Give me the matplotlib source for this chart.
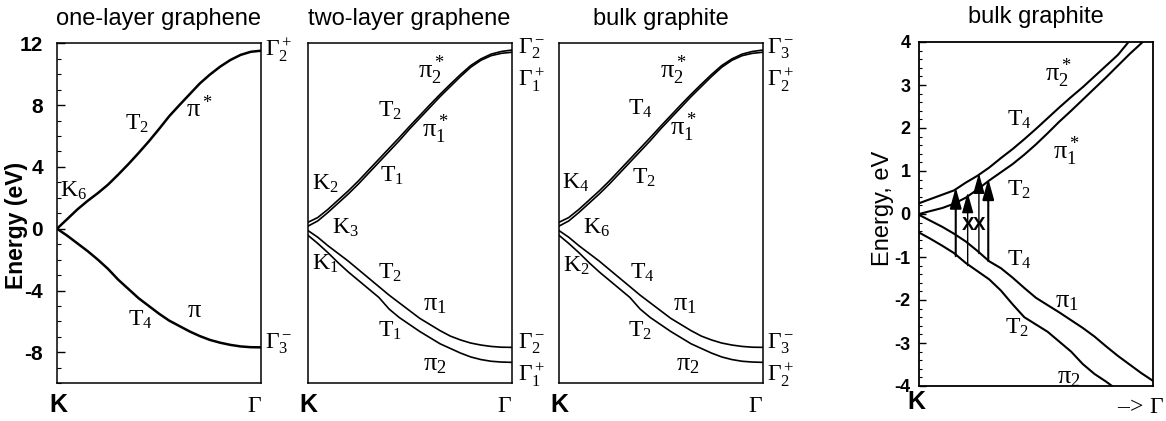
import matplotlib
matplotlib.use("Agg")
import matplotlib.pyplot as plt
from matplotlib.ticker import FixedLocator, MultipleLocator

plt.rcParams.update(
    {
        "font.family": ["Liberation Sans", "DejaVu Sans"],
        "mathtext.fontset": "custom",
        "mathtext.rm": "Liberation Serif",
        "mathtext.it": "Liberation Serif",
        "mathtext.bf": "Liberation Serif:bold",
        "axes.unicode_minus": False,
    }
)

# k-path position, 0 = K, 1 = Gamma
K_GRID = [0.0, 0.05, 0.1, 0.15, 0.2, 0.25, 0.3, 0.35, 0.4, 0.45, 0.5,
          0.55, 0.6, 0.65, 0.7, 0.75, 0.8, 0.85, 0.9, 0.95, 1.0]

# one-layer graphene (eV)
mono_pi_star = [0.0, 0.62, 1.25, 1.8, 2.3, 2.85, 3.5, 4.18, 4.9, 5.65, 6.45,
                7.28, 8.0, 8.7, 9.4, 9.98, 10.49, 10.92, 11.25, 11.45, 11.52]
mono_pi = [0.0, -0.45, -0.95, -1.45, -2.0, -2.6, -3.3, -3.9, -4.5, -5.0, -5.5,
           -5.95, -6.3, -6.65, -6.95, -7.2, -7.38, -7.52, -7.62, -7.67, -7.68]

# two-layer graphene (eV)
bi_pi1_star = [0.15, 0.5, 1.05, 1.65, 2.25, 2.9, 3.6, 4.3, 5.0, 5.7, 6.45,
               7.15, 7.85, 8.55, 9.2, 9.85, 10.45, 10.9, 11.2, 11.35, 11.42]
bi_pi2_star = [0.4, 0.72, 1.25, 1.85, 2.45, 3.1, 3.8, 4.5, 5.2, 5.9, 6.62,
               7.32, 8.02, 8.7, 9.35, 9.98, 10.56, 10.99, 11.3, 11.47, 11.56]
bi_pi1 = [-0.1, -0.55, -1.1, -1.6, -2.1, -2.65, -3.2, -3.75, -4.3, -4.8, -5.3,
          -5.8, -6.2, -6.6, -6.95, -7.2, -7.4, -7.53, -7.62, -7.67, -7.68]
bi_pi2 = [-0.4, -0.95, -1.55, -2.2, -2.8, -3.35, -3.9, -4.45, -5.2, -5.75, -6.2,
          -6.65, -7.05, -7.45, -7.75, -8.05, -8.3, -8.47, -8.58, -8.63, -8.65]

# bulk graphite, full K-Gamma line (same dispersion as bilayer on this scale)
bulk_pi1_star = bi_pi1_star
bulk_pi2_star = bi_pi2_star
bulk_pi1 = bi_pi1
bulk_pi2 = bi_pi2

# bulk graphite near K (eV)
zoom_pi2_star = [0.25, 0.35, 0.45, 0.55, 0.73, 0.89, 1.08, 1.3, 1.51, 1.74, 1.98,
                 2.23, 2.48, 2.72, 2.95, 3.2, 3.45, 3.7, 4.03, 4.3, 4.6]
zoom_pi1_star = [0.0, 0.07, 0.14, 0.24, 0.38, 0.57, 0.78, 0.97, 1.16, 1.38, 1.62,
                 1.88, 2.15, 2.4, 2.66, 2.92, 3.18, 3.45, 3.72, 3.97, 4.22]
zoom_pi1 = [-0.02, -0.16, -0.3, -0.46, -0.64, -0.86, -1.1, -1.26, -1.48, -1.72, -1.95,
            -2.12, -2.29, -2.47, -2.65, -2.85, -3.08, -3.3, -3.5, -3.7, -3.88]
zoom_pi2 = [-0.43, -0.58, -0.74, -0.91, -1.14, -1.33, -1.52, -1.78, -2.1, -2.4, -2.57,
            -2.74, -2.97, -3.2, -3.49, -3.72, -3.9, -4.1, -4.3, -4.5, -4.7]

# optical transitions: k position, start energy, end energy, allowed?
arrow_k = [0.157, 0.208, 0.256, 0.296]
arrow_from = [-0.98, -1.2, -0.92, -1.09]
arrow_to = [0.62, 0.5, 0.95, 0.82]
arrow_allowed = [True, False, False, True]
forbidden_mark_e = -0.27

# labels: (x, energy, text)
mono_labels = [
    (0.015, 2.07, r"$\mathrm{K}_6$"),
    (0.333, 6.43, r"$\mathrm{T}_2$"),
    (0.63, 7.25, r"$\mathrm{π}^*$"),
    (0.348, -6.3, r"$\mathrm{T}_4$"),
    (0.635, -5.69, r"$\mathrm{π}$"),
    (1.02, 11.13, r"$\mathrm{Γ}_2^+$"),
    (1.02, -7.74, r"$\mathrm{Γ}_3^-$"),
]
bi_labels = [
    (1.03, 11.35, r"$\mathrm{Γ}_2^-$"),
    (1.03, 9.19, r"$\mathrm{Γ}_1^+$"),
    (0.54, 9.73, r"$\mathrm{π}_2^*$"),
    (0.345, 7.25, r"$\mathrm{T}_2$"),
    (0.56, 5.96, r"$\mathrm{π}_1^*$"),
    (0.355, 3.04, r"$\mathrm{T}_1$"),
    (0.02, 2.5, r"$\mathrm{K}_2$"),
    (0.118, -0.3, r"$\mathrm{K}_3$"),
    (0.02, -2.67, r"$\mathrm{K}_1$"),
    (0.345, -3.21, r"$\mathrm{T}_2$"),
    (0.566, -5.26, r"$\mathrm{π}_1$"),
    (0.345, -6.99, r"$\mathrm{T}_1$"),
    (0.566, -9.15, r"$\mathrm{π}_2$"),
    (1.03, -7.74, r"$\mathrm{Γ}_2^-$"),
    (1.03, -9.9, r"$\mathrm{Γ}_1^+$"),
]
bulk_labels = [
    (1.02, 11.35, r"$\mathrm{Γ}_3^-$"),
    (1.02, 9.19, r"$\mathrm{Γ}_2^+$"),
    (0.497, 9.73, r"$\mathrm{π}_2^*$"),
    (0.342, 7.36, r"$\mathrm{T}_4$"),
    (0.547, 6.06, r"$\mathrm{π}_1^*$"),
    (0.359, 2.94, r"$\mathrm{T}_2$"),
    (0.016, 2.61, r"$\mathrm{K}_4$"),
    (0.122, -0.3, r"$\mathrm{K}_6$"),
    (0.024, -2.78, r"$\mathrm{K}_2$"),
    (0.35, -3.21, r"$\mathrm{T}_4$"),
    (0.563, -5.26, r"$\mathrm{π}_1$"),
    (0.342, -6.99, r"$\mathrm{T}_2$"),
    (0.576, -9.15, r"$\mathrm{π}_2$"),
    (1.02, -7.74, r"$\mathrm{Γ}_3^-$"),
    (1.02, -9.9, r"$\mathrm{Γ}_2^+$"),
]
zoom_labels = [
    (0.538, 3.1, r"$\mathrm{π}_2^*$"),
    (0.375, 2.05, r"$\mathrm{T}_4$"),
    (0.574, 1.28, r"$\mathrm{π}_1^*$"),
    (0.375, 0.43, r"$\mathrm{T}_2$"),
    (0.375, -1.2, r"$\mathrm{T}_4$"),
    (0.581, -2.17, r"$\mathrm{π}_1$"),
    (0.367, -2.79, r"$\mathrm{T}_2$"),
    (0.588, -3.95, r"$\mathrm{π}_2$"),
]

W, H = 1166, 421
fig = plt.figure(figsize=(W / 100, H / 100), dpi=100)


def px_axes(left, top, right, bottom):
    return fig.add_axes([left / W, 1 - bottom / H, (right - left) / W, (bottom - top) / H])


def frame(ax, lw=1.1):
    for s in ax.spines.values():
        s.set_linewidth(lw)
        s.set_color("black")


def put_labels(ax, labels, size=17):
    for x, e, s in labels:
        # the pi labels are drawn a little larger in the original
        fs = size + 2 if "π" in s else size
        ax.text(x, e, s, fontsize=fs, ha="left", va="baseline", clip_on=False)


def k_gamma(ax, kx=-0.035, gx=1.003, gy=-0.035, gamma=r"$\mathrm{Γ}$", ky=-0.03):
    ax.text(kx, ky, "K", transform=ax.transAxes, fontsize=18, fontweight="bold",
            ha="left", va="top")
    ax.text(gx, gy, gamma, transform=ax.transAxes, fontsize=17, ha="right", va="top")


# --- one-layer graphene ---
ax1 = px_axes(57, 43.3, 261, 383.2)
ax1.plot(K_GRID, mono_pi_star, color="black", lw=1.8)
ax1.plot(K_GRID, mono_pi, color="black", lw=1.8)
ax1.set_xlim(0, 1)
ax1.set_ylim(-10, 12)
ax1.set_xticks([])
ax1.yaxis.set_major_locator(FixedLocator([-8, -4, 0, 4, 8, 12]))
ax1.yaxis.set_minor_locator(MultipleLocator(1))
ax1.tick_params(axis="y", which="major", direction="in", length=6, width=1, pad=10,
                labelsize=15)
ax1.tick_params(axis="y", which="minor", direction="in", length=3, width=0.8)
for t in ax1.get_yticklabels():
    t.set_fontweight("bold")
ax1.set_ylabel("Energy (eV)", fontsize=16.5, fontweight="bold")
ax1.yaxis.set_label_coords(-0.142, 0.465)
ax1.set_title("one-layer graphene", fontsize=17, pad=13)
frame(ax1)
put_labels(ax1, mono_labels)
k_gamma(ax1)

# --- two-layer graphene and bulk graphite ---
for left, title, bands, labels in [
    (307.5, "two-layer graphene", (bi_pi1_star, bi_pi2_star, bi_pi1, bi_pi2), bi_labels),
    (558.5, "bulk graphite", (bulk_pi1_star, bulk_pi2_star, bulk_pi1, bulk_pi2), bulk_labels),
]:
    ax = px_axes(left, 43.3, left + 204, 383.2)
    for band in bands:
        ax.plot(K_GRID, band, color="black", lw=1.2)
    ax.set_xlim(0, 1)
    ax.set_ylim(-10, 12)
    ax.set_xticks([])
    ax.set_yticks([])
    ax.set_title(title, fontsize=17, pad=13)
    frame(ax)
    put_labels(ax, labels)
    k_gamma(ax, kx=-0.04)

# --- bulk graphite near K ---
ax4 = px_axes(919, 42, 1153, 386)
for band in (zoom_pi2_star, zoom_pi1_star, zoom_pi1, zoom_pi2):
    ax4.plot(K_GRID, band, color="black", lw=1.5)
ax4.set_xlim(0, 1)
ax4.set_ylim(-4, 4)
ax4.set_xticks([])
ax4.yaxis.set_major_locator(MultipleLocator(1))
ax4.yaxis.set_minor_locator(MultipleLocator(0.2))
ax4.tick_params(axis="y", which="major", direction="in", length=5, width=1, pad=6,
                labelsize=13)
ax4.tick_params(axis="y", which="minor", direction="in", length=2.5, width=0.8)
for t in ax4.get_yticklabels():
    t.set_fontweight("bold")
ax4.set_ylabel("Energy, eV", fontsize=17)
ax4.yaxis.set_label_coords(-0.108, 0.517)
ax4.set_title("bulk graphite", fontsize=17, pad=14)
frame(ax4, lw=1.3)

for k, e0, e1, ok in zip(arrow_k, arrow_from, arrow_to, arrow_allowed):
    ax4.annotate(
        "", xy=(k, e1), xytext=(k, e0),
        arrowprops=dict(arrowstyle="-|>,head_length=0.9,head_width=0.25",
                        color="black", lw=1.5 if ok else 1.0,
                        shrinkA=0, shrinkB=0, mutation_scale=14),
    )
    if not ok:
        ax4.text(k, forbidden_mark_e, "X", fontsize=13.5, fontweight="bold",
                 ha="center", va="center")
put_labels(ax4, zoom_labels)
ax4.text(-0.05, -0.012, "K", transform=ax4.transAxes, fontsize=18, fontweight="bold",
         ha="left", va="top")
ax4.text(1.047, -0.03, r"$\mathrm{–\!>\, Γ}$", transform=ax4.transAxes, fontsize=17,
         ha="right", va="top")

fig.savefig("out.png", dpi=100)
